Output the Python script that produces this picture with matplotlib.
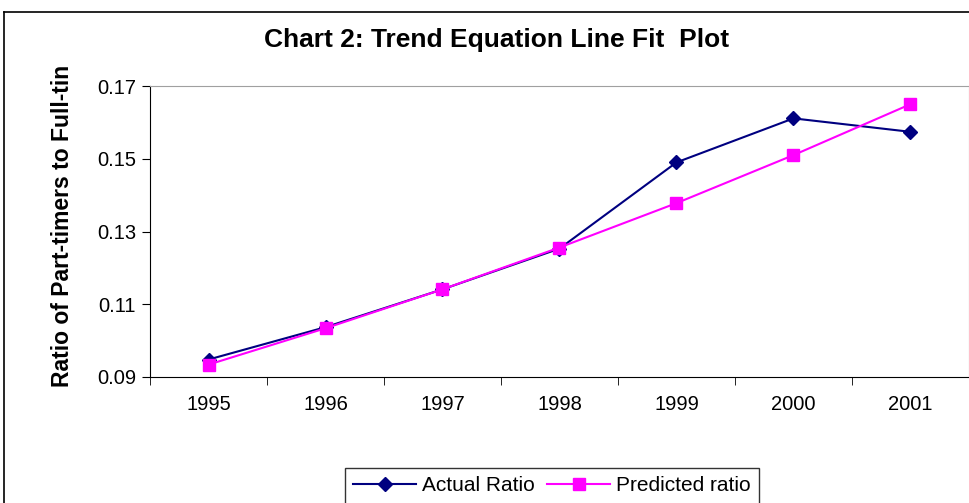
import matplotlib
matplotlib.use("Agg")
import matplotlib.pyplot as plt
from matplotlib.lines import Line2D

years = ["1995", "1996", "1997", "1998", "1999", "2000", "2001"]
actual = [0.0948, 0.1037, 0.1141, 0.1253, 0.1490, 0.1611, 0.1574]
predicted = [0.0934, 0.1034, 0.1141, 0.1256, 0.1378, 0.1510, 0.1650]
yticks = [0.09, 0.11, 0.13, 0.15, 0.17]

plt.rcParams['font.family'] = ['Liberation Sans', 'DejaVu Sans']

fig = plt.figure(figsize=(9.7, 5.03), dpi=100)
ax = fig.add_axes([150/970, 1-377/503, 819/970, (377-86)/503])

x = list(range(len(years)))
ax.plot(x, actual, color='#000080', marker='D', markersize=7, linewidth=1.5,
        label='Actual Ratio', zorder=3)
ax.plot(x, predicted, color='#FF00FF', marker='s', markersize=8, linewidth=1.5,
        label='Predicted ratio', zorder=4)

ax.set_xlim(-0.5, len(years) - 0.5)
ax.set_ylim(0.09, 0.17)
ax.set_yticks(yticks)
ax.set_yticklabels([f"{v:.2f}" for v in yticks], fontsize=14.5)
ax.set_xticks(x)
ax.set_xticklabels(years, fontsize=14.5)
ax.set_xticks([i - 0.5 for i in range(len(years) + 1)], minor=True)
ax.tick_params(axis='x', which='major', length=0, pad=13)
ax.tick_params(axis='x', which='minor', length=6, direction='out', color='black')
ax.tick_params(axis='y', length=6, direction='out', pad=4)

for s in ['top', 'right']:
    ax.spines[s].set_color('#a0a0a0')
for s in ['left', 'bottom']:
    ax.spines[s].set_color('black')

fig.text(63/970, 1-226/503, 'Ratio of Part-timers to Full-tin', rotation=90,
         ha='center', va='center', fontsize=16.5, fontweight='bold')

fig.text(497/970, 1-40/503, 'Chart 2: Trend Equation Line Fit  Plot', ha='center', va='center',
         fontsize=19, fontweight='bold')

# chart area border (left and top)
fig.add_artist(Line2D([4/970, 4/970], [0, 1-12/503], color='black', linewidth=1.2,
                      transform=fig.transFigure))
fig.add_artist(Line2D([4/970, 1], [1-12/503, 1-12/503], color='black', linewidth=1.2,
                      transform=fig.transFigure))

leg = fig.legend(loc='upper center', bbox_to_anchor=(552/970, 1-468/503), ncol=2, fontsize=15,
                 frameon=True, fancybox=False, edgecolor='black', handlelength=3.0,
                 columnspacing=0.6, handletextpad=0.3, borderpad=0.4, borderaxespad=0)
leg.get_frame().set_linewidth(1.0)

fig.savefig('out.png', dpi=100)
